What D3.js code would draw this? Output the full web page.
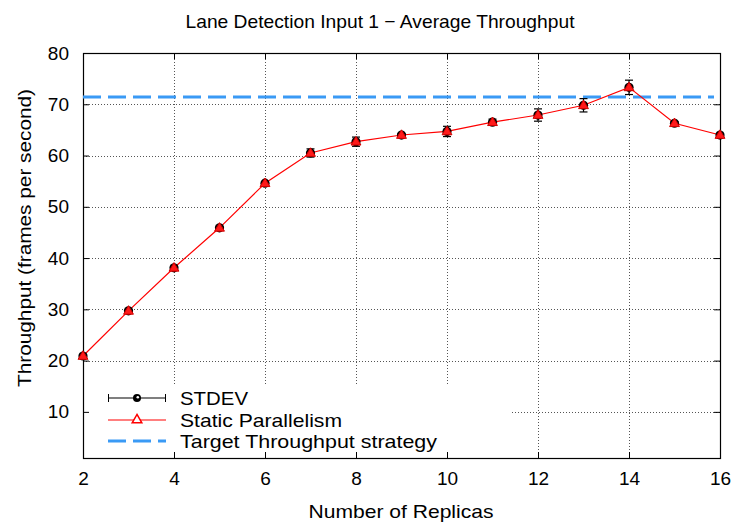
<!DOCTYPE html>
<html><head><meta charset="utf-8">
<script src="https://cdn.jsdelivr.net/npm/d3@7"></script>
<style>body{margin:0;background:#fff;} text{font-family:"Liberation Sans",Arial,sans-serif;}</style>
</head><body>
<svg id="chart" width="736" height="522"></svg>
<script>
const replicas = [2,3,4,5,6,7,8,9,10,11,12,13,14,15,16];
const throughput = [20.9,29.7,38.1,45.9,54.6,60.5,62.7,64.0,64.7,66.5,67.9,69.8,73.3,66.3,64.0];
const stdev = [0.3,0.3,0.3,0.3,0.3,0.8,0.9,0.3,1.0,0.6,1.2,1.3,1.4,0.3,0.3];
const target = 71.4;
const xTicks = [2,4,6,8,10,12,14,16];
const yTicks = [10,20,30,40,50,60,70,80];
const legendLabels = ["STDEV","Static Parallelism","Target Throughput strategy"];

const svg = d3.select("#chart");
const L=83,R=720,T=53,B=458;
const x = d3.scaleLinear().domain([2,16]).range([L,R]);
const y = d3.scaleLinear().domain([1,80]).range([B,T]);

// grid
const grid = svg.append("g").attr("stroke","#555").attr("stroke-width",1).attr("stroke-dasharray","1,2");
xTicks.slice(1,-1).forEach(t=>grid.append("line").attr("x1",Math.round(x(t))+0.5).attr("x2",Math.round(x(t))+0.5).attr("y1",T).attr("y2",B));
yTicks.slice(0,-1).forEach(t=>grid.append("line").attr("y1",Math.round(y(t))+0.5).attr("y2",Math.round(y(t))+0.5).attr("x1",L).attr("x2",R));

// legend background
svg.append("rect").attr("x",L+1).attr("y",386).attr("width",428).attr("height",B-386-1).attr("fill","#fff");

// axes with inward ticks
const axB = d3.axisBottom(x).tickValues(xTicks).tickSize(-6).tickPadding(14).tickFormat(d3.format("d"));
const axT = d3.axisTop(x).tickValues(xTicks).tickSize(-6).tickFormat("");
const axL = d3.axisLeft(y).tickValues(yTicks).tickSize(-6).tickPadding(14);
const axR = d3.axisRight(y).tickValues(yTicks).tickSize(-6).tickFormat("");
function style(g){g.select(".domain").remove();g.selectAll("line").attr("stroke","#000");g.selectAll("text").attr("font-size",19).attr("fill","#000").attr("font-family","Liberation Sans, Arial, sans-serif");}
svg.append("g").attr("transform",`translate(0,${B})`).call(axB).call(style);
svg.append("g").attr("transform",`translate(0,${T})`).call(axT).call(style);
svg.append("g").attr("transform",`translate(${L},0)`).call(axL).call(style);
svg.append("g").attr("transform",`translate(${R},0)`).call(axR).call(style);
svg.append("rect").attr("x",L+0.5).attr("y",T+0.5).attr("width",R-L).attr("height",B-T).attr("fill","none").attr("stroke","#000").attr("stroke-width",1.2);

// target line
svg.append("line").attr("x1",L).attr("x2",R-6).attr("y1",y(target)).attr("y2",y(target))
  .attr("stroke","#3a9af5").attr("stroke-width",3).attr("stroke-dasharray","18,7");

// series line
const line = d3.line().x((d,i)=>x(replicas[i])).y(d=>y(d));
svg.append("path").datum(throughput).attr("d",line).attr("fill","none").attr("stroke","#ff0000").attr("stroke-width",1.2);

// error bars
const eb = svg.append("g").attr("stroke","#000").attr("stroke-width",1.2);
throughput.forEach((v,i)=>{
  const cx=x(replicas[i]);
  eb.append("line").attr("x1",cx).attr("x2",cx).attr("y1",y(v-stdev[i])).attr("y2",y(v+stdev[i]));
  eb.append("line").attr("x1",cx-4).attr("x2",cx+4).attr("y1",y(v-stdev[i])).attr("y2",y(v-stdev[i]));
  eb.append("line").attr("x1",cx-4).attr("x2",cx+4).attr("y1",y(v+stdev[i])).attr("y2",y(v+stdev[i]));
});
const tri = d3.symbol().type(d3.symbolTriangle).size(42);
throughput.forEach((v,i)=>{
  const cx=x(replicas[i]);
  svg.append("circle").attr("cx",cx).attr("cy",y(v)).attr("r",4.6).attr("fill","#000");
  svg.append("path").attr("d",tri()).attr("transform",`translate(${cx},${y(v)+0.5})`).attr("fill","#ff1a1a").attr("stroke","#d00000").attr("stroke-width",1);
});

// legend
const lg = svg.append("g");
const rows=[398,420,441];
const legW=[68,162,257];
lg.append("line").attr("x1",108).attr("x2",166).attr("y1",rows[0]).attr("y2",rows[0]).attr("stroke","#000").attr("stroke-width",1.2);
lg.append("line").attr("x1",108.5).attr("x2",108.5).attr("y1",rows[0]-4).attr("y2",rows[0]+4).attr("stroke","#000");
lg.append("line").attr("x1",165.5).attr("x2",165.5).attr("y1",rows[0]-4).attr("y2",rows[0]+4).attr("stroke","#000");
lg.append("circle").attr("cx",137).attr("cy",rows[0]).attr("r",4).attr("fill","#000");
lg.append("circle").attr("cx",137.8).attr("cy",rows[0]-0.8).attr("r",1.3).attr("fill","#fff");
lg.append("line").attr("x1",108).attr("x2",166).attr("y1",rows[1]).attr("y2",rows[1]).attr("stroke","#ff5555").attr("stroke-width",1.5);
lg.append("path").attr("d",d3.symbol().type(d3.symbolTriangle).size(40)()).attr("transform",`translate(137,${rows[1]})`).attr("fill","#fff").attr("stroke","#ff0000").attr("stroke-width",1.5);
lg.append("line").attr("x1",108).attr("x2",166).attr("y1",rows[2]).attr("y2",rows[2]).attr("stroke","#3a9af5").attr("stroke-width",3).attr("stroke-dasharray","18,7");
legendLabels.forEach((s,i)=>lg.append("text").attr("x",180).attr("y",rows[i]+7).attr("font-size",19)
  .attr("textLength",legW[i]).attr("lengthAdjust","spacingAndGlyphs").text(s));

// titles
svg.append("text").attr("x",380).attr("y",28).attr("text-anchor","middle").attr("font-size",18.5)
  .attr("textLength",389).attr("lengthAdjust","spacingAndGlyphs").text("Lane Detection Input 1 \u2212 Average Throughput");
svg.append("text").attr("x",401).attr("y",518).attr("text-anchor","middle").attr("font-size",18.5)
  .attr("textLength",185).attr("lengthAdjust","spacingAndGlyphs").text("Number of Replicas");
svg.append("text").attr("transform","translate(31,238) rotate(-90)").attr("text-anchor","middle").attr("font-size",18.5)
  .attr("textLength",298).attr("lengthAdjust","spacingAndGlyphs").text("Throughput (frames per second)");
</script>
</body></html>
